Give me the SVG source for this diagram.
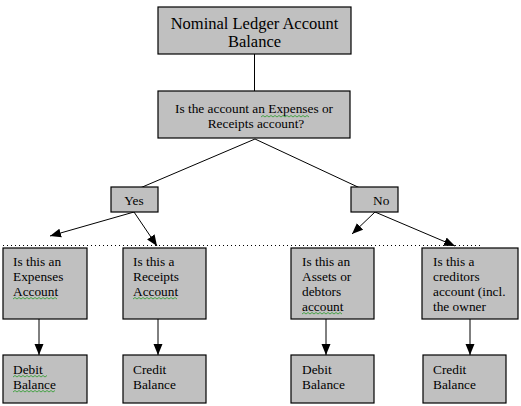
<svg xmlns="http://www.w3.org/2000/svg" width="521" height="406" viewBox="0 0 521 406">
<defs>
<style>
.box{fill:#c0c0c0;stroke:#000;stroke-width:1.2}
.t{font-family:"Liberation Serif","Times New Roman",serif;font-size:13.33px;fill:#000}
.big{font-size:16.5px}
.ln{stroke:#000;stroke-width:1;fill:none}
.sq{fill:none;stroke:#2a9a2a;stroke-width:0.8}
</style>
<marker id="ah" markerUnits="userSpaceOnUse" markerWidth="12" markerHeight="10" viewBox="0 0 12 10" refX="11" refY="5" orient="auto">
<path d="M0,0.5 L11,5 L0,9.5 Z" fill="#000"/>
</marker>
</defs>
<rect width="521" height="406" fill="#fff"/>

<g id="connectors">
<line class="ln" x1="254.5" y1="54" x2="254.5" y2="91"/>
<line class="ln" x1="255" y1="139" x2="140" y2="188"/>
<line class="ln" x1="255" y1="139" x2="360" y2="188"/>
<line class="ln" x1="134" y1="212" x2="50" y2="236" marker-end="url(#ah)"/>
<line class="ln" x1="134" y1="212" x2="157" y2="246" marker-end="url(#ah)"/>
<line class="ln" x1="375" y1="212" x2="352" y2="234" marker-end="url(#ah)"/>
<line class="ln" x1="375" y1="212" x2="455" y2="246" marker-end="url(#ah)"/>
<line class="ln" x1="39" y1="319" x2="39" y2="355" marker-end="url(#ah)"/>
<line class="ln" x1="158" y1="319" x2="158" y2="355" marker-end="url(#ah)"/>
<line class="ln" x1="326" y1="319" x2="326" y2="355" marker-end="url(#ah)"/>
<line class="ln" x1="470" y1="319" x2="470" y2="355" marker-end="url(#ah)"/>
<line x1="3" y1="245.5" x2="481" y2="245.5" stroke="#000" stroke-width="1" stroke-dasharray="1 3"/>
</g>

<g id="n-top">
<rect class="box" x="158" y="7" width="193" height="47"/>
<text class="t big" x="254.5" y="28.5" text-anchor="middle">Nominal Ledger Account</text>
<text class="t big" x="254.5" y="47" text-anchor="middle">Balance</text>
</g>

<g id="n-question">
<rect class="box" x="158" y="91" width="192" height="47"/>
<text class="t" x="254" y="113" text-anchor="middle">Is the account an Expenses or</text>
<text class="t" x="256" y="128" text-anchor="middle">Receipts account?</text>
<path class="sq" d="M261,117 l2,-1.5 l2,1.5 l2,-1.5 l2,1.5 l2,-1.5 l2,1.5 l2,-1.5 l2,1.5 l2,-1.5 l2,1.5 l2,-1.5 l2,1.5 l2,-1.5 l2,1.5 l2,-1.5 l2,1.5 l2,-1.5 l2,1.5 l2,-1.5 l2,1.5 l2,-1.5 l2,1.5 l2,-1.5 l2,1.5"/>
</g>

<g id="n-yes">
<rect class="box" x="111" y="187" width="47" height="25"/>
<text class="t" x="134" y="205" text-anchor="middle">Yes</text>
</g>

<g id="n-no">
<rect class="box" x="351" y="187" width="47" height="25"/>
<text class="t" x="373" y="205">No</text>
</g>

<g id="n-expenses">
<rect class="box" x="3" y="248" width="84" height="71"/>
<text class="t" x="13" y="266">Is this an</text>
<text class="t" x="13" y="281">Expenses</text>
<text class="t" x="13" y="296">Account</text>
<path class="sq" d="M13,299 l2,-1.5 l2,1.5 l2,-1.5 l2,1.5 l2,-1.5 l2,1.5 l2,-1.5 l2,1.5 l2,-1.5 l2,1.5 l2,-1.5 l2,1.5 l2,-1.5 l2,1.5 l2,-1.5 l2,1.5 l2,-1.5 l2,1.5 l2,-1.5 l2,1.5 l2,-1.5 l2,1.5"/>
</g>

<g id="n-receipts">
<rect class="box" x="123" y="248" width="83" height="71"/>
<text class="t" x="133" y="266">Is this a</text>
<text class="t" x="133" y="281">Receipts</text>
<text class="t" x="133" y="296">Account</text>
<path class="sq" d="M133,299 l2,-1.5 l2,1.5 l2,-1.5 l2,1.5 l2,-1.5 l2,1.5 l2,-1.5 l2,1.5 l2,-1.5 l2,1.5 l2,-1.5 l2,1.5 l2,-1.5 l2,1.5 l2,-1.5 l2,1.5 l2,-1.5 l2,1.5 l2,-1.5 l2,1.5 l2,-1.5 l2,1.5"/>
</g>

<g id="n-assets">
<rect class="box" x="291" y="248" width="83" height="71"/>
<text class="t" x="302" y="266">Is this an</text>
<text class="t" x="302" y="281">Assets or</text>
<text class="t" x="302" y="296">debtors</text>
<text class="t" x="302" y="311">account</text>
<path class="sq" d="M302,314 l2,-1.5 l2,1.5 l2,-1.5 l2,1.5 l2,-1.5 l2,1.5 l2,-1.5 l2,1.5 l2,-1.5 l2,1.5 l2,-1.5 l2,1.5 l2,-1.5 l2,1.5 l2,-1.5 l2,1.5 l2,-1.5 l2,1.5 l2,-1.5 l2,1.5"/>
</g>

<g id="n-creditors">
<rect class="box" x="422" y="248" width="96" height="71"/>
<text class="t" x="433" y="266">Is this a</text>
<text class="t" x="433" y="281">creditors</text>
<text class="t" x="433" y="296">account (incl.</text>
<text class="t" x="433" y="311">the owner</text>
</g>

<g id="n-debit1">
<rect class="box" x="3" y="355" width="84" height="48"/>
<text class="t" x="13" y="374">Debit</text>
<text class="t" x="13" y="389">Balance</text>
<path class="sq" d="M13,377 l2,-1.5 l2,1.5 l2,-1.5 l2,1.5 l2,-1.5 l2,1.5 l2,-1.5 l2,1.5 l2,-1.5 l2,1.5 l2,-1.5 l2,1.5 l2,-1.5 l2,1.5 l2,-1.5 l2,1.5 l2,-1.5"/>
<path class="sq" d="M13,392 l2,-1.5 l2,1.5 l2,-1.5 l2,1.5 l2,-1.5 l2,1.5 l2,-1.5 l2,1.5 l2,-1.5 l2,1.5 l2,-1.5 l2,1.5 l2,-1.5 l2,1.5 l2,-1.5 l2,1.5 l2,-1.5 l2,1.5 l2,-1.5 l2,1.5 l2,-1.5"/>
</g>

<g id="n-credit1">
<rect class="box" x="123" y="355" width="83" height="48"/>
<text class="t" x="133" y="374">Credit</text>
<text class="t" x="133" y="389">Balance</text>
</g>

<g id="n-debit2">
<rect class="box" x="291" y="355" width="83" height="48"/>
<text class="t" x="302" y="374">Debit</text>
<text class="t" x="302" y="389">Balance</text>
</g>

<g id="n-credit2">
<rect class="box" x="423" y="355" width="83" height="48"/>
<text class="t" x="433" y="374">Credit</text>
<text class="t" x="433" y="389">Balance</text>
</g>
</svg>
